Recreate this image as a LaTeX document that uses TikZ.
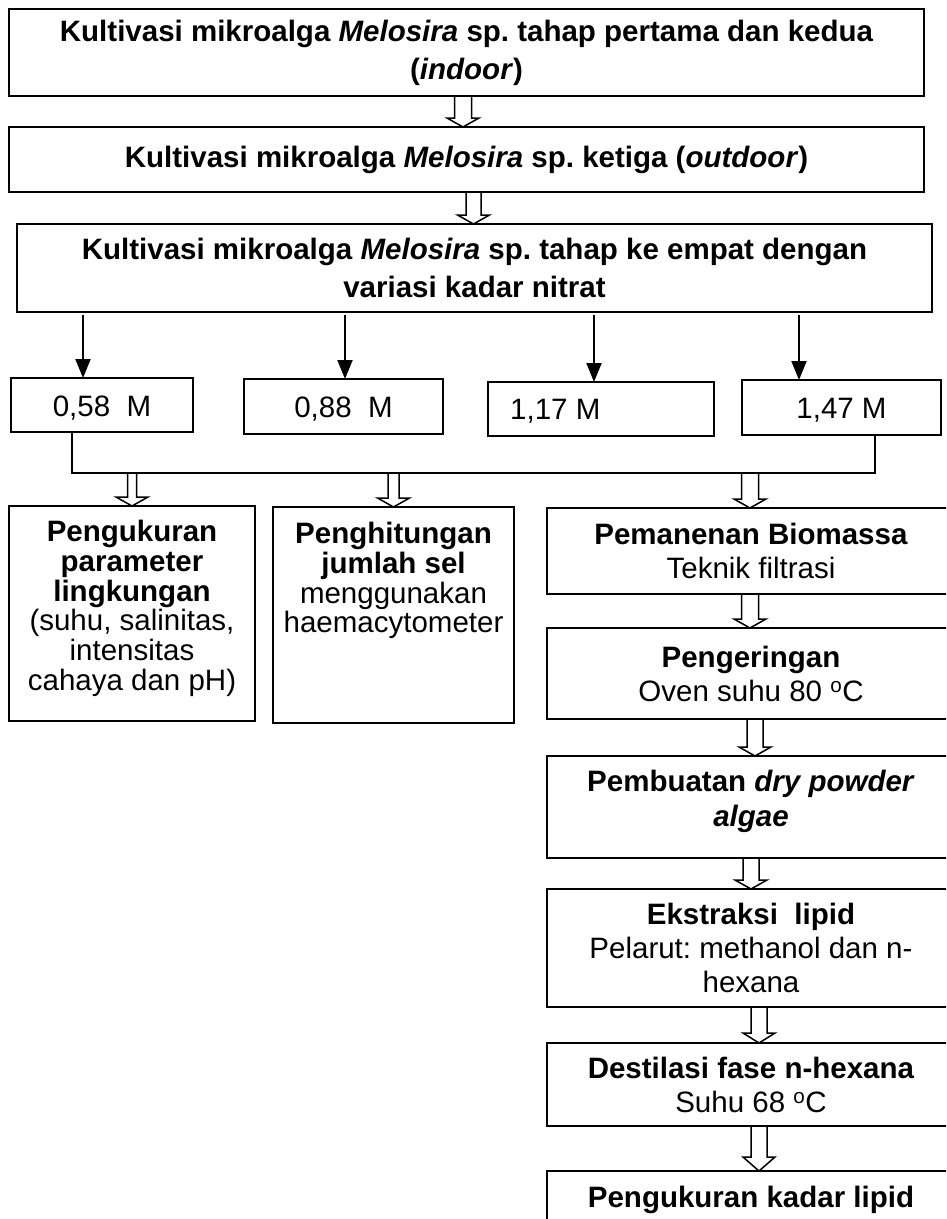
\documentclass[tikz,border=0pt]{standalone}
\usepackage{fontspec}
\setmainfont{Liberation Sans}
\frenchspacing
\usetikzlibrary{calc,arrows.meta}
\tikzset{
  topbox/.style={draw, line width=2.2pt, inner sep=0pt, outer sep=0pt, align=center,
    font=\bfseries\fontsize{29.5}{38}\selectfont},
  valbox/.style={draw, line width=1.8pt, inner sep=0pt, outer sep=0pt,
    font=\fontsize{29.5}{34}\selectfont},
  valtext/.style={inner sep=0pt, font=\fontsize{29.5}{34}\selectfont},
  stepbox/.style={draw, line width=1.8pt, inner sep=0pt, outer sep=0pt, align=center,
    font=\fontsize{29.5}{34}\selectfont},
  boxtext/.style={inner sep=0pt, align=center, font=\fontsize{29.5}{29.8}\selectfont},
  solidarrow/.style={line width=2pt, -{Triangle[length=19pt,width=15pt]}, shorten <=3pt},
  hollow/.style={line width=1.5pt, line join=miter},
  busline/.style={line width=1.5pt}
}
\newcommand\harrow[4]{%
  \draw[hollow] let \p1=#1, \p2=#2 in
    (\x1-#3pt,\y1) -- (\x1-#3pt,\y2+#4pt) -- (\x1-16pt,\y2+#4pt) -- (\x1,\y2)
    -- (\x1+16pt,\y2+#4pt) -- (\x1+#3pt,\y2+#4pt) -- (\x1+#3pt,\y1);}
\begin{document}
\begin{tikzpicture}[x=1pt,y=-1pt]
\useasboundingbox (0,0) rectangle (946,1219);
\clip (0,0) rectangle (946,1219);

% top boxes
\node[topbox, minimum width=915pt, minimum height=87pt] (b1) at (466.5,52.5)
  {Kultivasi mikroalga \textit{Melosira} sp. tahap pertama dan kedua\\(\textit{indoor})};
\node[topbox, minimum width=915pt, minimum height=65pt] (b2) at (466.5,159.5)
  {Kultivasi mikroalga \textit{Melosira} sp. ketiga (\textit{outdoor})};
\node[topbox, minimum width=915pt, minimum height=88pt] (b3) at (474.5,268)
  {Kultivasi mikroalga \textit{Melosira} sp. tahap ke empat dengan\\variasi kadar nitrat};

\harrow{([xshift=-3.5pt]b1.south)}{(b2.north)}{8.5}{9}
\harrow{([xshift=7pt]b2.south)}{(b3.north)}{7.5}{9}

% value boxes
\node[valbox, minimum width=182pt, minimum height=54pt] (v1) at (102,405) {};
\node[valtext] (v1t) at ([yshift=-3pt]v1.center) {0,58~~M};
\node[valbox, minimum width=199pt, minimum height=55pt] (v2) at (343.5,406.5) {};
\node[valtext] (v2t) at ([yshift=-3pt]v2.center) {0,88~~M};
\node[valbox, minimum width=226pt, minimum height=54pt] (v3) at (601,409) {};
\node[valtext, anchor=west] (v3t) at ([xshift=22pt,yshift=-2pt]v3.west) {1,17 M};
\node[valbox, minimum width=199pt, minimum height=55pt] (v4) at (841.5,407.5) {};
\node[valtext] (v4t) at ([yshift=-3pt]v4.center) {1,47 M};

\draw[solidarrow] ([xshift=-19pt]v1.north |- b3.south) -- ([xshift=-19pt]v1.north);
\draw[solidarrow] ([xshift=1.5pt]v2.north |- b3.south) -- ([xshift=1.5pt]v2.north);
\draw[solidarrow] ([xshift=-7pt]v3.north |- b3.south) -- ([xshift=-7pt]v3.north);
\draw[solidarrow] ([xshift=-42.5pt]v4.north |- b3.south) -- ([xshift=-42.5pt]v4.north);

% bus line
\coordinate (busL) at (72,473);
\coordinate (busR) at (875,473);
\draw[busline] (v1.south -| busL) -- (busL) -- (busR) -- (v4.south -| busR);

% lower boxes
\node[stepbox, minimum width=246pt, minimum height=215pt] (L1) at (132,613.5) {};
\node[boxtext, anchor=north] (L1t) at ([yshift=-14pt]L1.north)
  {\textbf{Pengukuran}\\\textbf{parameter}\\\textbf{lingkungan}\\(suhu, salinitas,\\intensitas\\cahaya dan pH)};
\node[stepbox, minimum width=241pt, minimum height=216pt] (L2) at (393.5,615) {};
\node[boxtext, anchor=north] (L2t) at ([yshift=-15pt]L2.north)
  {\textbf{Penghitungan}\\\textbf{jumlah sel}\\menggunakan\\haemacytometer};

\node[stepbox, minimum width=408pt, minimum height=86pt] (R1) at (751,551)
  {\textbf{Pemanenan Biomassa}\\Teknik filtrasi};
\node[stepbox, minimum width=408pt, minimum height=91pt] (R2) at (751,673.5)
  {\textbf{Pengeringan}\\Oven suhu 80 \textsuperscript{o}C};
\node[stepbox, minimum width=408pt, minimum height=102pt] (R3) at (751,807) {};
\node[boxtext, anchor=north, font=\bfseries\fontsize{29.5}{35}\selectfont] (R3t) at ([yshift=-14pt]R3.north)
  {Pembuatan \textit{dry powder}\\\textit{algae}};
\node[stepbox, minimum width=408pt, minimum height=118pt] (R4) at (751,948)
  {\textbf{Ekstraksi~~lipid}\\Pelarut: methanol dan n-\\hexana};
\node[stepbox, minimum width=408pt, minimum height=83pt] (R5) at (751,1084.5)
  {\textbf{Destilasi fase n-hexana}\\Suhu 68 \textsuperscript{o}C};
\node[stepbox, minimum width=408pt, minimum height=78pt] (R6) at (751,1210) {};
\node[boxtext, anchor=north, font=\bfseries\fontsize{29.5}{34}\selectfont] (R6t) at ([yshift=-15pt]R6.north)
  {Pengukuran kadar lipid};

\harrow{(L1.north |- busL)}{([xshift=5pt]L1.north)}{4.5}{9}
\harrow{(L2.north |- busL)}{([xshift=-16.5pt]L2.north)}{5.5}{9}
\harrow{([xshift=-1pt]R1.north |- busL)}{([xshift=-1pt]R1.north)}{8.5}{9}
\harrow{([xshift=-1pt]R1.south)}{(R2.north)}{8.5}{9}
\harrow{([xshift=4pt]R2.south)}{(R3.north)}{8}{9}
\harrow{([xshift=0pt]R3.south)}{(R4.north)}{8}{9}
\harrow{([xshift=8pt]R4.south)}{(R5.north)}{8}{10}
\harrow{([xshift=8pt]R5.south)}{(R6.north)}{8}{14}
\end{tikzpicture}
\end{document}
